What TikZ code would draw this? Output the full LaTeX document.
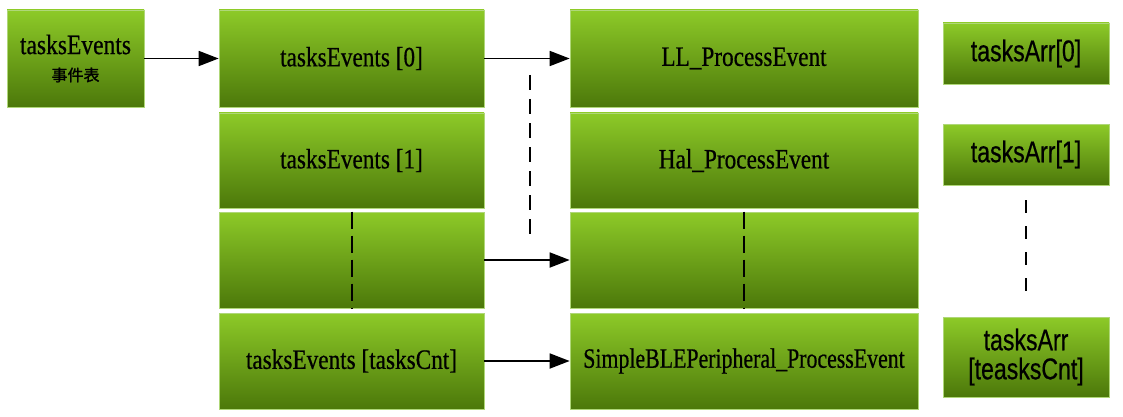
\documentclass[tikz,border=0pt]{standalone}
\usepackage{fontspec}
\usepackage{graphicx}
\setmainfont[FakeBold=0.6]{Liberation Serif}
\newfontfamily\sansf[FakeBold=0.6]{Liberation Sans}
\newfontfamily\cjk[FakeBold=1.5]{Noto Sans CJK SC}
\usetikzlibrary{arrows.meta}
\definecolor{gtop}{RGB}{141,202,40}
\definecolor{gbot}{RGB}{76,120,10}
\definecolor{gedge}{RGB}{175,215,120}
\newcommand{\sertx}[1]{\scalebox{0.83}[1]{#1}}
\newcommand{\santx}[1]{\scalebox{0.77}[1]{#1}}
\begin{document}
\begin{tikzpicture}[x=1pt,y=-1pt,
  gbox/.style={draw=gedge, line width=0.7pt, top color=gtop, bottom color=gbot,
    inner sep=0pt, text=black, align=center},
  serbox/.style={gbox, font=\fontsize{28}{30}\selectfont},
  sanbox/.style={gbox, font=\sansf\fontsize{30}{29}\selectfont},
  arr/.style={line width=1.8pt, -{Triangle[length=20pt,width=15pt]}},
  dsh/.style={line width=2pt, dash pattern=on 15pt off 9pt}]
\useasboundingbox (0,0) rectangle (1123,417);
% left table box
\node[serbox, minimum width=137pt, minimum height=97pt] (te) at (75.5,58.5)
  {\scalebox{0.84}[1]{\fontsize{28}{30}\selectfont tasksEvents}\\[-3pt]{\cjk\fontsize{16}{16}\selectfont 事件表}};
% column 1
\node[serbox, minimum width=265pt, minimum height=97pt] (a0) at (351.5,58.5) {\sertx{tasksEvents [0]}};
\node[serbox, minimum width=265pt, minimum height=95pt] (a1) at (351.5,160.5) {\sertx{tasksEvents [1]}};
\node[serbox, minimum width=265pt, minimum height=96pt] (a2) at (351.5,260) {};
\node[serbox, minimum width=265pt, minimum height=96pt] (a3) at (351.5,361) {\sertx{tasksEvents [tasksCnt]}};
% column 2
\node[serbox, minimum width=348pt, minimum height=97pt] (b0) at (744,58.5) {\sertx{LL\_ProcessEvent}};
\node[serbox, minimum width=348pt, minimum height=95pt] (b1) at (744,160.5) {\sertx{Hal\_ProcessEvent}};
\node[serbox, minimum width=348pt, minimum height=96pt] (b2) at (744,260) {};
\node[serbox, minimum width=348pt, minimum height=96pt] (b3) at (744,361) {\scalebox{0.78}[1]{SimpleBLEPeripheral\_ProcessEvent}};
% column 3
\node[sanbox, minimum width=166pt, minimum height=61pt] (c0) at (1026,53.5) {\santx{tasksArr[0]}};
\node[sanbox, minimum width=166pt, minimum height=61pt] (c1) at (1026,154.5) {\santx{tasksArr[1]}};
\node[sanbox, minimum width=166pt, minimum height=80pt] (c3) at (1026,357) {\santx{tasksArr}\\\santx{[teasksCnt]}};
% arrows
\draw[arr] (te.east) -- (a0.west);
\draw[arr] (a0.east) -- (b0.west);
\draw[arr] (a2.east) -- (b2.west);
\draw[arr] (a3.east) -- (b3.west);
% dashed lines
\coordinate (d1s) at (530,75);
\coordinate (d1e) at (530,234);
\draw[dsh] (d1s) -- (d1e);
\draw[dsh, dash pattern=on 17pt off 7pt] (a2.north) -- (a2.south);
\draw[dsh, dash pattern=on 17pt off 7pt] (b2.north) -- (b2.south);
\coordinate (d4s) at (1026,200);
\coordinate (d4e) at (1026,298);
\draw[dsh, dash pattern=on 13pt off 13pt] (d4s) -- (d4e);
\end{tikzpicture}
\end{document}
